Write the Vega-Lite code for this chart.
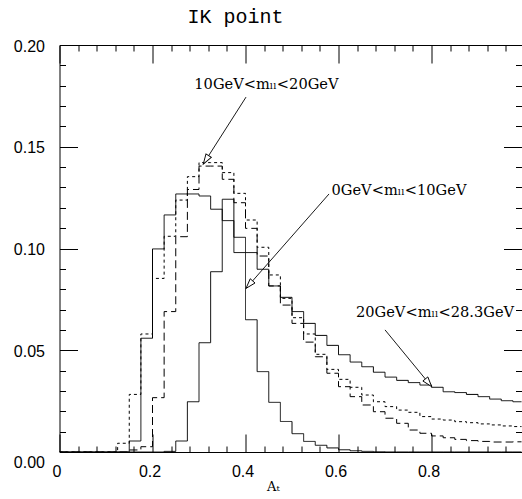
{
  "$schema": "https://vega.github.io/schema/vega-lite/v6.json",
  "width": 462,
  "height": 407,
  "autosize": {"type": "none"},
  "padding": {"left": 59.5, "top": 45, "right": 0, "bottom": 47},
  "background": "white",
  "title": {
    "text": "IK point",
    "font": "Liberation Mono",
    "fontSize": 20,
    "fontWeight": "normal",
    "color": "black",
    "anchor": "start",
    "frame": "group",
    "dx": 128,
    "dy": 28,
    "offset": 23,
    "baseline": "alphabetic"
  },
  "config": {
    "view": {"stroke": null},
    "axis": {"grid": false, "tickColor": "black", "domainColor": "black", "tickWidth": 1, "domainWidth": 1}
  },
  "layer": [
    {
      "data": {
        "values": [
          {"x": 0.000, "narrow": 0, "broad": 0, "dash": 0, "dot": 0},
          {"x": 0.025, "narrow": 0, "broad": 0, "dash": 0, "dot": 0},
          {"x": 0.050, "narrow": 0, "broad": 0, "dash": 0, "dot": 0},
          {"x": 0.075, "narrow": 0, "broad": 0, "dash": 0, "dot": 0},
          {"x": 0.100, "narrow": 0, "broad": 0, "dash": 0, "dot": 0},
          {"x": 0.125, "narrow": 0, "broad": 0, "dash": 0, "dot": 0.0043},
          {"x": 0.150, "narrow": 0, "broad": 0.0054, "dash": 0.001, "dot": 0.0283},
          {"x": 0.175, "narrow": 0, "broad": 0.0559, "dash": 0.0026, "dot": 0.058},
          {"x": 0.200, "narrow": 0, "broad": 0.0998, "dash": 0.0267, "dot": 0.0853},
          {"x": 0.225, "narrow": 0.0003, "broad": 0.1165, "dash": 0.069, "dot": 0.106},
          {"x": 0.250, "narrow": 0.0054, "broad": 0.1268, "dash": 0.1058, "dot": 0.1238},
          {"x": 0.275, "narrow": 0.0247, "broad": 0.1268, "dash": 0.129, "dot": 0.1353},
          {"x": 0.300, "narrow": 0.0537, "broad": 0.1258, "dash": 0.1405, "dot": 0.1422},
          {"x": 0.325, "narrow": 0.0886, "broad": 0.1193, "dash": 0.1405, "dot": 0.1422},
          {"x": 0.350, "narrow": 0.1242, "broad": 0.1137, "dash": 0.134, "dot": 0.1373},
          {"x": 0.375, "narrow": 0.1055, "broad": 0.098, "dash": 0.1225, "dot": 0.1271},
          {"x": 0.400, "narrow": 0.065, "broad": 0.098, "dash": 0.1099, "dot": 0.114},
          {"x": 0.425, "narrow": 0.0395, "broad": 0.0898, "dash": 0.0963, "dot": 0.1006},
          {"x": 0.450, "narrow": 0.0244, "broad": 0.0816, "dash": 0.0816, "dot": 0.087},
          {"x": 0.475, "narrow": 0.015, "broad": 0.076, "dash": 0.0722, "dot": 0.0755},
          {"x": 0.500, "narrow": 0.009, "broad": 0.069, "dash": 0.0632, "dot": 0.066},
          {"x": 0.525, "narrow": 0.0052, "broad": 0.0632, "dash": 0.054, "dot": 0.058},
          {"x": 0.550, "narrow": 0.0033, "broad": 0.0573, "dash": 0.0468, "dot": 0.048},
          {"x": 0.575, "narrow": 0.002, "broad": 0.0524, "dash": 0.0387, "dot": 0.0406},
          {"x": 0.600, "narrow": 0.0011, "broad": 0.0478, "dash": 0.0321, "dot": 0.0357},
          {"x": 0.625, "narrow": 0.0006, "broad": 0.0442, "dash": 0.0272, "dot": 0.0318},
          {"x": 0.650, "narrow": 0.0003, "broad": 0.0419, "dash": 0.0231, "dot": 0.028},
          {"x": 0.675, "narrow": 0.0001, "broad": 0.0392, "dash": 0.0198, "dot": 0.0247},
          {"x": 0.700, "narrow": 0, "broad": 0.0368, "dash": 0.0166, "dot": 0.0223},
          {"x": 0.725, "narrow": 0, "broad": 0.0352, "dash": 0.0141, "dot": 0.0206},
          {"x": 0.750, "narrow": 0, "broad": 0.0341, "dash": 0.0108, "dot": 0.0195},
          {"x": 0.775, "narrow": 0, "broad": 0.0329, "dash": 0.0092, "dot": 0.0174},
          {"x": 0.800, "narrow": 0, "broad": 0.0318, "dash": 0.0079, "dot": 0.0162},
          {"x": 0.825, "narrow": 0, "broad": 0.0296, "dash": 0.007, "dot": 0.0157},
          {"x": 0.850, "narrow": 0, "broad": 0.0292, "dash": 0.0062, "dot": 0.0149},
          {"x": 0.875, "narrow": 0, "broad": 0.0283, "dash": 0.0056, "dot": 0.0144},
          {"x": 0.900, "narrow": 0, "broad": 0.0272, "dash": 0.0052, "dot": 0.0138},
          {"x": 0.925, "narrow": 0, "broad": 0.026, "dash": 0.0049, "dot": 0.0133},
          {"x": 0.950, "narrow": 0, "broad": 0.0252, "dash": 0.0049, "dot": 0.0128},
          {"x": 0.975, "narrow": 0, "broad": 0.0247, "dash": 0.005, "dot": 0.0125},
          {"x": 1.000, "narrow": 0, "broad": 0.0247, "dash": 0.005, "dot": 0.0125}
        ]
      },
      "transform": [{"fold": ["narrow", "broad", "dash", "dot"], "as": ["series", "value"]}],
      "mark": {"type": "line", "interpolate": "step-after", "color": "black", "strokeWidth": 1, "clip": true},
      "encoding": {
        "x": {
          "field": "x", "type": "quantitative",
          "scale": {"domain": [0, 0.9935], "nice": false, "zero": false},
          "axis": {
            "orient": "bottom",
            "values": [0, 0.04, 0.08, 0.12, 0.16, 0.2, 0.24, 0.28, 0.32, 0.36, 0.4, 0.44, 0.48, 0.52, 0.56, 0.6, 0.64, 0.68, 0.72, 0.76, 0.8, 0.84, 0.88, 0.92, 0.96],
            "tickSize": {"condition": {"test": "abs(round(datum.value*5)-datum.value*5)<1e-6", "value": -18}, "value": -6},
            "labelExpr": "abs(round(datum.value*5)-datum.value*5)<1e-6 ? (datum.value == 0 ? '0' : format(datum.value, '.1f')) : ''",
            "labelFont": "Liberation Sans",
            "labelFontSize": 16,
            "labelColor": "black",
            "labelPadding": 29,
            "labelOffset": -3,
            "labelFlush": false,
            "labelOverlap": false,
            "title": "Aₜ",
            "titleFont": "DejaVu Serif",
            "titleFontSize": 13,
            "titleFontWeight": "normal",
            "titleColor": "black",
            "titleAlign": "left",
            "titleAnchor": "start",
            "titleX": 207,
            "titleY": 38,
            "titleBaseline": "alphabetic"
          }
        },
        "y": {
          "field": "value", "type": "quantitative",
          "scale": {"domain": [0, 0.2], "nice": false, "zero": false},
          "axis": {
            "orient": "left",
            "values": [0, 0.01, 0.02, 0.03, 0.04, 0.05, 0.06, 0.07, 0.08, 0.09, 0.1, 0.11, 0.12, 0.13, 0.14, 0.15, 0.16, 0.17, 0.18, 0.19, 0.2],
            "tickSize": {"condition": {"test": "abs(round(datum.value*20)-datum.value*20)<1e-6", "value": -18}, "value": -6},
            "labelExpr": "abs(round(datum.value*20)-datum.value*20)<1e-6 ? format(datum.value, '.2f') : ''",
            "labelFont": "Liberation Sans",
            "labelFontSize": 16,
            "labelColor": "black",
            "labelPadding": 33,
            "labelOffset": {"condition": {"test": "datum.value == 0", "value": 10}, "value": 1},
            "labelFlush": false,
            "labelOverlap": false,
            "title": null
          }
        },
        "strokeDash": {
          "field": "series", "type": "nominal",
          "scale": {"domain": ["narrow", "broad", "dash", "dot"], "range": [[1, 0], [1, 0], [8, 4], [3, 3]]},
          "legend": null
        }
      }
    },
    {
      "data": {
        "values": [
          {"x": 0.2899, "y": 0.1786, "label": "10GeV<mₗₗ<20GeV"},
          {"x": 0.585, "y": 0.1263, "label": "0GeV<mₗₗ<10GeV"},
          {"x": 0.6376, "y": 0.0665, "label": "20GeV<mₗₗ<28.3GeV"}
        ]
      },
      "mark": {"type": "text", "align": "left", "baseline": "alphabetic", "font": "DejaVu Serif", "fontSize": 14.6, "color": "black"},
      "encoding": {
        "x": {
          "field": "x", "type": "quantitative",
          "scale": {"domain": [0, 0.9935], "nice": false, "zero": false},
          "axis": {
            "orient": "top",
            "values": [0, 0.04, 0.08, 0.12, 0.16, 0.2, 0.24, 0.28, 0.32, 0.36, 0.4, 0.44, 0.48, 0.52, 0.56, 0.6, 0.64, 0.68, 0.72, 0.76, 0.8, 0.84, 0.88, 0.92, 0.96],
            "tickSize": {"condition": {"test": "abs(round(datum.value*5)-datum.value*5)<1e-6", "value": -18}, "value": -6},
            "labels": false,
            "title": null
          }
        },
        "y": {
          "field": "y", "type": "quantitative",
          "scale": {"domain": [0, 0.2], "nice": false, "zero": false},
          "axis": {
            "orient": "right",
            "values": [0, 0.01, 0.02, 0.03, 0.04, 0.05, 0.06, 0.07, 0.08, 0.09, 0.1, 0.11, 0.12, 0.13, 0.14, 0.15, 0.16, 0.17, 0.18, 0.19, 0.2],
            "tickSize": {"condition": {"test": "abs(round(datum.value*20)-datum.value*20)<1e-6", "value": -18}, "value": -6},
            "labels": false,
            "domain": false,
            "title": null
          }
        },
        "text": {"field": "label", "type": "nominal"}
      }
    },
    {
      "data": {
        "name": "arrows",
        "values": [
          {"x": 0.4011, "y": 0.1744, "x2": 0.3092, "y2": 0.1415},
          {"x": 0.5796, "y": 0.1268, "x2": 0.4011, "y2": 0.0804},
          {"x": 0.70, "y": 0.06, "x2": 0.8004, "y2": 0.0321}
        ]
      },
      "layer": [
        {
          "mark": {"type": "rule", "color": "black", "strokeWidth": 0.9},
          "encoding": {
            "x": {"field": "x", "type": "quantitative", "scale": {"domain": [0, 0.9935], "nice": false, "zero": false}, "axis": null},
            "y": {"field": "y", "type": "quantitative", "scale": {"domain": [0, 0.2], "nice": false, "zero": false}, "axis": null},
            "x2": {"field": "x2"},
            "y2": {"field": "y2"}
          }
        },
        {
          "transform": [{"calculate": "atan2((datum.x2-datum.x)*465, (datum.y2-datum.y)*2035)*180/PI", "as": "ang"}],
          "mark": {"type": "point", "shape": "M0,0L-0.32,1L0.32,1Z", "size": 400, "filled": true, "fill": "white", "stroke": "black", "strokeWidth": 0.9, "opacity": 1},
          "encoding": {
            "x": {"field": "x2", "type": "quantitative", "scale": {"domain": [0, 0.9935], "nice": false, "zero": false}, "axis": null},
            "y": {"field": "y2", "type": "quantitative", "scale": {"domain": [0, 0.2], "nice": false, "zero": false}, "axis": null},
            "angle": {"field": "ang", "type": "quantitative", "scale": null}
          }
        }
      ]
    }
  ],
  "resolve": {"axis": {"x": "independent", "y": "independent"}}
}
